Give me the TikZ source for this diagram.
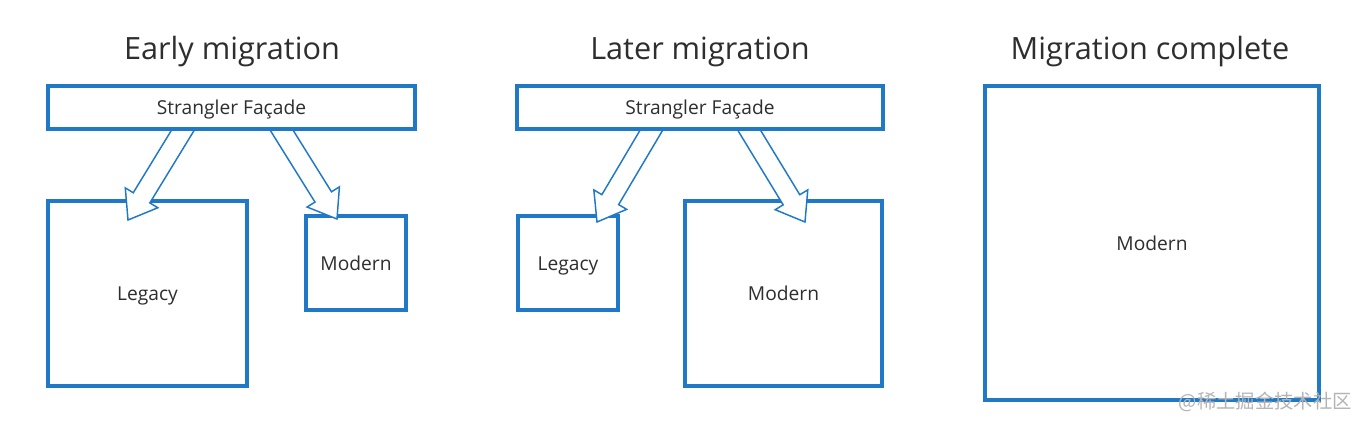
\documentclass[tikz,border=0pt]{standalone}
\usepackage{fontspec}
\setmainfont{Open Sans}
\newfontfamily\cjk{Noto Sans CJK SC}
\usetikzlibrary{calc}
\definecolor{boxblue}{HTML}{2079C7}
\definecolor{txtgray}{HTML}{2E2E2E}
\definecolor{wmgray}{HTML}{B4B4B4}
\tikzset{
  frame/.style={draw=boxblue, line width=2.5pt, fill=white, inner sep=0pt,
    text=txtgray, font=\fontsize{14.4}{16}\selectfont, text height=14pt, text depth=3.5pt},
  titletext/.style={text=txtgray, font=\fontsize{23}{26}\selectfont, inner sep=0pt, anchor=base},
  blockarrow/.style={draw=boxblue, line width=1.1pt, fill=white, line join=miter},
  watermark/.style={text=wmgray, font=\cjk\fontsize{14.5}{16}\selectfont, inner sep=0pt}
}
\newcommand\blkarrow[2]{%
  \coordinate (ba-s) at ($(#1)!-0.3!(#2)$);
  \coordinate (ba-b) at ($(#2)!19.5pt!(#1)$);
  \draw[blockarrow] ($(ba-s)!7.3pt!90:(#2)$) -- ($(ba-b)!7.3pt!90:(#2)$)
    -- ($(ba-b)!14.3pt!90:(#2)$) -- (#2) -- ($(ba-b)!14.3pt!-90:(#2)$)
    -- ($(ba-b)!7.3pt!-90:(#2)$) -- ($(ba-s)!7.3pt!-90:(#2)$) -- cycle;
}
\begin{document}
\begin{tikzpicture}[x=0.75pt, y=-0.75pt]
\useasboundingbox (0,0) rectangle (1371,440);
\fill[white] (0,0) rectangle (1371,440);

% titles
\node[titletext] (t1) at (232,59) {Early migration};
\node[titletext] (t2) at (700,59) {Later migration};
\node[titletext] (t3) at (1150,59) {Migration complete};

% Early migration
\node[frame, minimum width=149.25pt, minimum height=138.75pt] (legacy1) at (147.5,293.5) {Legacy};
\node[frame, minimum width=75pt, minimum height=70.5pt] (modern1) at (356,263) {Modern};
\coordinate (a1s) at (183,130);
\coordinate (a1t) at (128,220);
\coordinate (a2s) at (281.5,130);
\coordinate (a2t) at (337,219);
\blkarrow{a1s}{a1t}
\blkarrow{a2s}{a2t}
\node[frame, minimum width=275.25pt, minimum height=32.25pt] (facade1) at (231.5,107.5) {Strangler Façade};

% Later migration
\node[frame, minimum width=75pt, minimum height=70.5pt] (legacy2) at (568,263) {Legacy};
\node[frame, minimum width=147.75pt, minimum height=138.75pt] (modern2) at (783.5,293.5) {Modern};
\coordinate (b1s) at (651.5,130);
\coordinate (b1t) at (597,222);
\coordinate (b2s) at (749,130);
\coordinate (b2t) at (805,222);
\blkarrow{b1s}{b1t}
\blkarrow{b2s}{b2t}
\node[frame, minimum width=274.5pt, minimum height=32.25pt] (facade2) at (700,107.5) {Strangler Façade};

% Migration complete
\node[frame, minimum width=250.5pt, minimum height=235.5pt] (modern3) at (1152,243) {Modern};

% watermark
\node[watermark, anchor=east] (wm) at (1352,402) {@稀土掘金技术社区};
\end{tikzpicture}
\end{document}
